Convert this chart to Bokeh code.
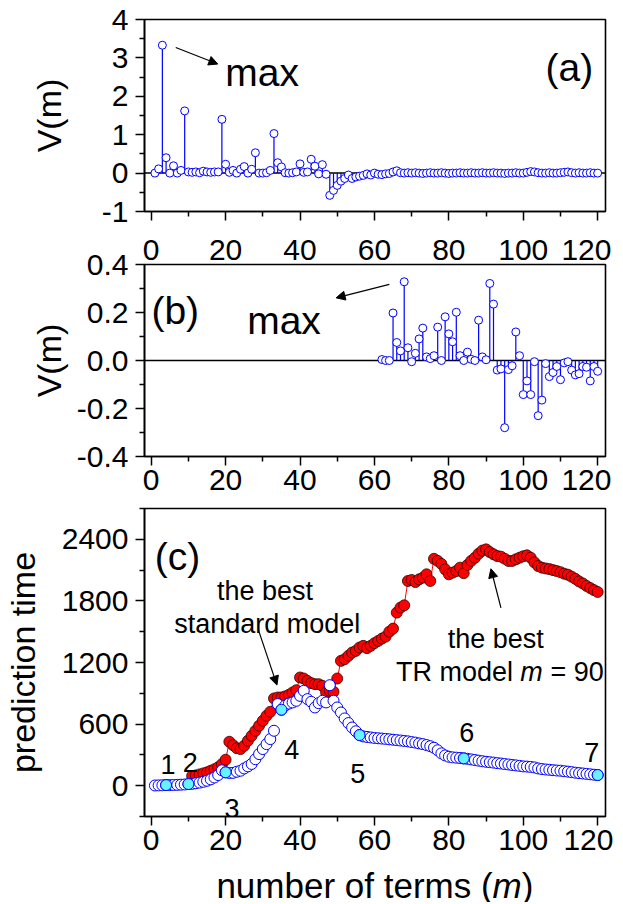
import math
from bokeh.plotting import figure
from bokeh.layouts import column
from bokeh.models import (Range1d, FixedTicker, PrintfTickFormatter, Span, Label, Arrow,
                          NormalHead, LinearAxis)
from bokeh.embed import file_html
from bokeh.resources import INLINE

FONT = "Liberation Sans"

# ---------------- data ----------------
# panel (a): V(m), m = 1..120
va = [0.0, 0.11, 3.33, 0.40, 0.0, 0.19, 0.0, 0.07, 1.62, 0.03,
      0.02, 0.03, 0.01, 0.05, 0.03, 0.02, 0.03, 0.03, 1.40, 0.23,
      0.02, 0.07, 0.0, 0.10, 0.17, 0.0, 0.10, 0.53, 0.0, 0.0,
      0.01, 0.07, 1.03, 0.27, 0.16, 0.01, 0.0, 0.01, 0.03, 0.24,
      0.02, 0.03, 0.36, 0.18, -0.02, 0.22, -0.03, -0.58, -0.45, -0.32,
      -0.21, -0.14, -0.05, -0.14, -0.10, -0.08, -0.06, -0.02, -0.05, 0.0,
      -0.03, -0.04, -0.02, -0.01, 0.03, 0.06, 0.01, 0.0, 0.01, 0.0,
      0.01, 0.0, -0.01, 0.0, 0.01, 0.0, 0.0, 0.01, 0.0, -0.01,
      0.0, 0.0, 0.01, 0.0, 0.0, 0.01, 0.0, 0.0, 0.01, 0.0,
      0.0, 0.01, 0.0, 0.0, -0.01, 0.0, 0.0, 0.01, 0.0, 0.0,
      0.02, 0.04, 0.03, 0.01, 0.0, 0.0, 0.01, 0.0, 0.0, 0.01,
      0.02, 0.03, 0.01, 0.0, 0.01, 0.0, 0.0, 0.01, 0.0, 0.0]
ma = list(range(1, len(va) + 1))

# panel (b): V(m), m = 62..120
vb = [0.004, 0.0, 0.0, 0.198, 0.075, 0.04, 0.328, 0.053, -0.005, 0.03,
      0.09, 0.135, 0.015, 0.008, 0.02, 0.139, 0.0, 0.182, 0.111, 0.078,
      0.201, 0.02, 0.0, 0.035, 0.005, 0.0, 0.168, 0.015, 0.003, 0.321,
      0.235, -0.04, -0.035, -0.28, -0.038, -0.022, 0.119, 0.02, -0.142, -0.085,
      -0.142, -0.005, -0.23, -0.165, -0.013, -0.067, -0.05, -0.025, -0.08, -0.01,
      -0.005, -0.04, -0.06, -0.055, -0.025, -0.028, -0.085, -0.025, -0.045]
mb = list(range(62, 62 + len(vb)))

# panel (c): prediction time, TR model (red), m = 11..120
red = [95, 100, 110, 120, 130, 146, 160, 180, 210, 253,
       428, 395, 365, 357, 389, 438, 486, 535, 584, 632,
       681, 720, 850, 859, 860, 870, 885, 908, 930, 1054,
       1044, 1021, 999, 989, 989, 973, 908, 924, 915, 1044,
       1216, 1232, 1265, 1297, 1313, 1346, 1362, 1340, 1362, 1388,
       1410, 1433, 1452, 1500, 1530, 1686, 1735, 1757, 1994, 2004,
       1984, 2010, 2026, 2059, 1994, 2210, 2190, 2160, 2108, 2059,
       2075, 2091, 2124, 2070, 2150, 2190, 2220, 2260, 2290, 2302,
       2276, 2254, 2237, 2231, 2211, 2189, 2189, 2205, 2221, 2235,
       2244, 2221, 2175, 2140, 2124, 2116, 2110, 2100, 2091, 2080,
       2065, 2055, 2036, 2015, 1990, 1970, 1946, 1925, 1905, 1887]
mred = list(range(11, 11 + len(red)))

# panel (c): prediction time, standard model (blue), m = 1..120
blue = [2, 3, 4, 6, 6, 7, 8, 10, 12, 16,
        18, 24, 30, 38, 48, 62, 80, 104, 150, 130,
        124, 125, 136, 146, 168, 188, 212, 258, 308, 357,
        405, 454, 535, 795, 740, 780, 800, 811, 827, 875,
        924, 843, 817, 762, 804, 827, 811, 979, 827, 762,
        713, 655, 610, 567, 530, 493, 480, 475, 470, 465,
        462, 459, 456, 452, 448, 444, 440, 436, 432, 425,
        420, 412, 405, 396, 385, 370, 345, 315, 295, 282,
        276, 273, 270, 266, 262, 256, 250, 244, 238, 233,
        229, 225, 220, 216, 211, 207, 202, 198, 193, 188,
        186, 183, 178, 168, 162, 158, 155, 151, 148, 146,
        141, 137, 132, 127, 123, 119, 115, 111, 107, 104]
mblue = list(range(1, len(blue) + 1))

# highlighted (cyan) models and their labels
cyan_m = [4, 10, 20, 35, 56, 84, 120]
cyan_lbl = ["1", "2", "3", "4", "5", "6", "7"]
cyan_lbl_x = [4.5, 10.5, 21.7, 37.8, 55.5, 84.8, 118.4]
cyan_lbl_y = [211, 225, -225, 357, 114, 519, 325]

XTICKS = [0, 20, 40, 60, 80, 100, 120]
XMINOR = [10, 30, 50, 70, 90, 110]
XR = (-1.8, 122.1)
LEFT = 142
RIGHT = 8
TICKFS = "30px"


def style_axis(ax):
    ax.axis_line_width = 1.6
    ax.axis_line_color = "black"
    ax.major_tick_line_width = 1.5
    ax.minor_tick_line_width = 1.5
    ax.major_tick_line_color = "black"
    ax.minor_tick_line_color = "black"
    ax.major_tick_in = 0
    ax.minor_tick_in = 0
    ax.major_tick_out = 9
    ax.minor_tick_out = 5
    ax.major_label_text_font = FONT
    ax.major_label_text_font_size = TICKFS
    ax.major_label_text_color = "black"
    ax.axis_label_text_font = FONT
    ax.axis_label_text_font_style = "normal"
    ax.axis_label_text_color = "black"


def make_fig(yr, fh, top, bottom, yticks, yminor, ytitle, ytitle_fs, ytitle_standoff):
    p = figure(frame_width=461, frame_height=fh, title=None,
               x_range=Range1d(*XR), y_range=Range1d(*yr),
               output_backend="svg", toolbar_location=None,
               min_border_left=LEFT, min_border_right=RIGHT,
               min_border_top=top, min_border_bottom=bottom)
    p.xgrid.visible = False
    p.ygrid.visible = False
    p.outline_line_color = "black"
    p.outline_line_width = 1.6
    p.background_fill_color = "white"
    p.border_fill_color = "white"
    p.xaxis.ticker = FixedTicker(ticks=XTICKS, minor_ticks=XMINOR)
    p.yaxis.ticker = FixedTicker(ticks=yticks, minor_ticks=yminor)
    style_axis(p.xaxis[0])
    style_axis(p.yaxis[0])
    p.xaxis.major_label_standoff = 4
    p.yaxis.major_label_standoff = 7
    p.yaxis.axis_label = ytitle
    p.yaxis.axis_label_text_font_size = ytitle_fs
    p.yaxis.axis_label_standoff = ytitle_standoff
    return p


def lab(p, x, y, text, size, align="center", style="normal", y_offset=0):
    p.add_layout(Label(x=x, y=y, text=text, text_font=FONT, text_font_size=size,
                       text_align=align, text_baseline="alphabetic", y_offset=y_offset,
                       text_font_style=style, text_color="black"))


def arrow(p, x0, y0, x1, y1):
    p.add_layout(Arrow(end=NormalHead(size=9, fill_color="black", line_color="black", line_width=1),
                       x_start=x0, y_start=y0, x_end=x1, y_end=y1,
                       line_color="black", line_width=1.2))


BLUE = "#0000FF"

# ---------------- panel (a) ----------------
pa = make_fig((-1, 4), 192, 19, 14, [-1, 0, 1, 2, 3, 4], [-0.5, 0.5, 1.5, 2.5, 3.5],
              "V(m)", "34px", 31)
pa.yaxis.formatter = PrintfTickFormatter(format="%d")
# the tick labels of this axis are drawn by the axis above panel (b)
pa.xaxis.major_label_text_font_size = "0px"
pa.xaxis.major_label_text_color = None
pa.xaxis.major_label_standoff = 0
pa.add_layout(Span(location=0, dimension="width", line_color="black", line_width=1.5, level="underlay"))
pa.segment(x0=ma, y0=[0] * len(ma), x1=ma, y1=va, line_color=BLUE, line_width=1.2)
pa.scatter(ma, va, size=8, marker="circle", line_color=BLUE, fill_color="white", line_width=1)
lab(pa, 29.8, 2.61, "max", "39px")
lab(pa, 112.4, 2.74, "(a)", "39px")
arrow(pa, 6.6, 3.27, 17.9, 2.84)

# ---------------- panel (b) ----------------
pb = make_fig((-0.4, 0.4), 192, 39, 46, [-0.4, -0.2, 0.0, 0.2, 0.4], [-0.3, -0.1, 0.1, 0.3],
              "V(m)", "34px", 6)
pb.yaxis.formatter = PrintfTickFormatter(format="%.1f")
# tick labels of panel (a), shown between the two panels
top_axis = LinearAxis(ticker=FixedTicker(ticks=XTICKS))
style_axis(top_axis)
top_axis.major_tick_out = 0
top_axis.minor_tick_out = 0
top_axis.axis_line_color = None
top_axis.major_tick_line_color = None
top_axis.minor_tick_line_color = None
top_axis.major_label_standoff = 5
pb.add_layout(top_axis, "above")
pb.add_layout(Span(location=0, dimension="width", line_color="black", line_width=1.5, level="underlay"))
pb.segment(x0=mb, y0=[0] * len(mb), x1=mb, y1=vb, line_color=BLUE, line_width=1.2)
pb.scatter(mb, vb, size=8, marker="circle", line_color=BLUE, fill_color="white", line_width=1)
lab(pb, 6.47, 0.208, "(b)", "39px")
lab(pb, 35.7, 0.168, "max", "39px")
arrow(pb, 64.0, 0.317, 49.7, 0.261)

# ---------------- panel (c) ----------------
pc = make_fig((-300, 2700), 308, 6, 46, [0, 600, 1200, 1800, 2400], [-300, 300, 900, 1500, 2100, 2700],
              "prediction time", "34px", 17)
pc.line(mred, red, line_color="red", line_width=1)
pc.scatter(mred, red, size=11, marker="circle", line_color="#330000", fill_color="#FF0000", line_width=0.8)
pc.scatter(mblue, blue, size=11, marker="circle", line_color=BLUE, fill_color="white", line_width=1)
cyan_v = [blue[mblue.index(m)] for m in cyan_m]
pc.scatter(cyan_m, cyan_v, size=11, marker="circle", line_color=BLUE, fill_color="#66F2FF", line_width=1)
for t, x, y in zip(cyan_lbl, cyan_lbl_x, cyan_lbl_y):
    lab(pc, x, y, t, "27px")
lab(pc, 7.04, 2234, "(c)", "39px")
lab(pc, 30.6, 1897, "the best", "27px")
lab(pc, 31.2, 1573, "standard model", "27px")
arrow(pc, 28.9, 1508, 33.8, 980)
lab(pc, 92.6, 1427, "the best", "27px")
lab(pc, 65.77, 1106, "TR model", "27px", align="left")
lab(pc, 99.22, 1106, "m", "27px", align="left", style="italic")
lab(pc, 107.3, 1106, "= 90", "27px", align="left")
arrow(pc, 94.0, 1733, 91.3, 2113)

# ---------------- x title strip ----------------
STRIP_H = 40
ps = figure(frame_width=461, frame_height=STRIP_H, title=None,
            x_range=Range1d(*XR), y_range=Range1d(0, STRIP_H),
            x_axis_type=None, y_axis_type=None, output_backend="svg", toolbar_location=None,
            min_border_left=LEFT, min_border_right=RIGHT, min_border_top=0, min_border_bottom=0)
ps.xgrid.visible = False
ps.ygrid.visible = False
ps.outline_line_color = None
ps.background_fill_color = "white"
ps.border_fill_color = "white"
# baseline placed a fixed distance below the top of the strip
TITLE_OFF = -23
lab(ps, 17.52, STRIP_H, "number of terms (", "35px", align="left", y_offset=TITLE_OFF)
lab(ps, 91.72, STRIP_H, "m", "35px", align="left", style="italic", y_offset=TITLE_OFF)
lab(ps, 99.57, STRIP_H, ")", "35px", align="left", y_offset=TITLE_OFF)

layout = column(pa, pb, pc, ps, spacing=0)
open("out.html", "w").write(file_html(layout, INLINE))
